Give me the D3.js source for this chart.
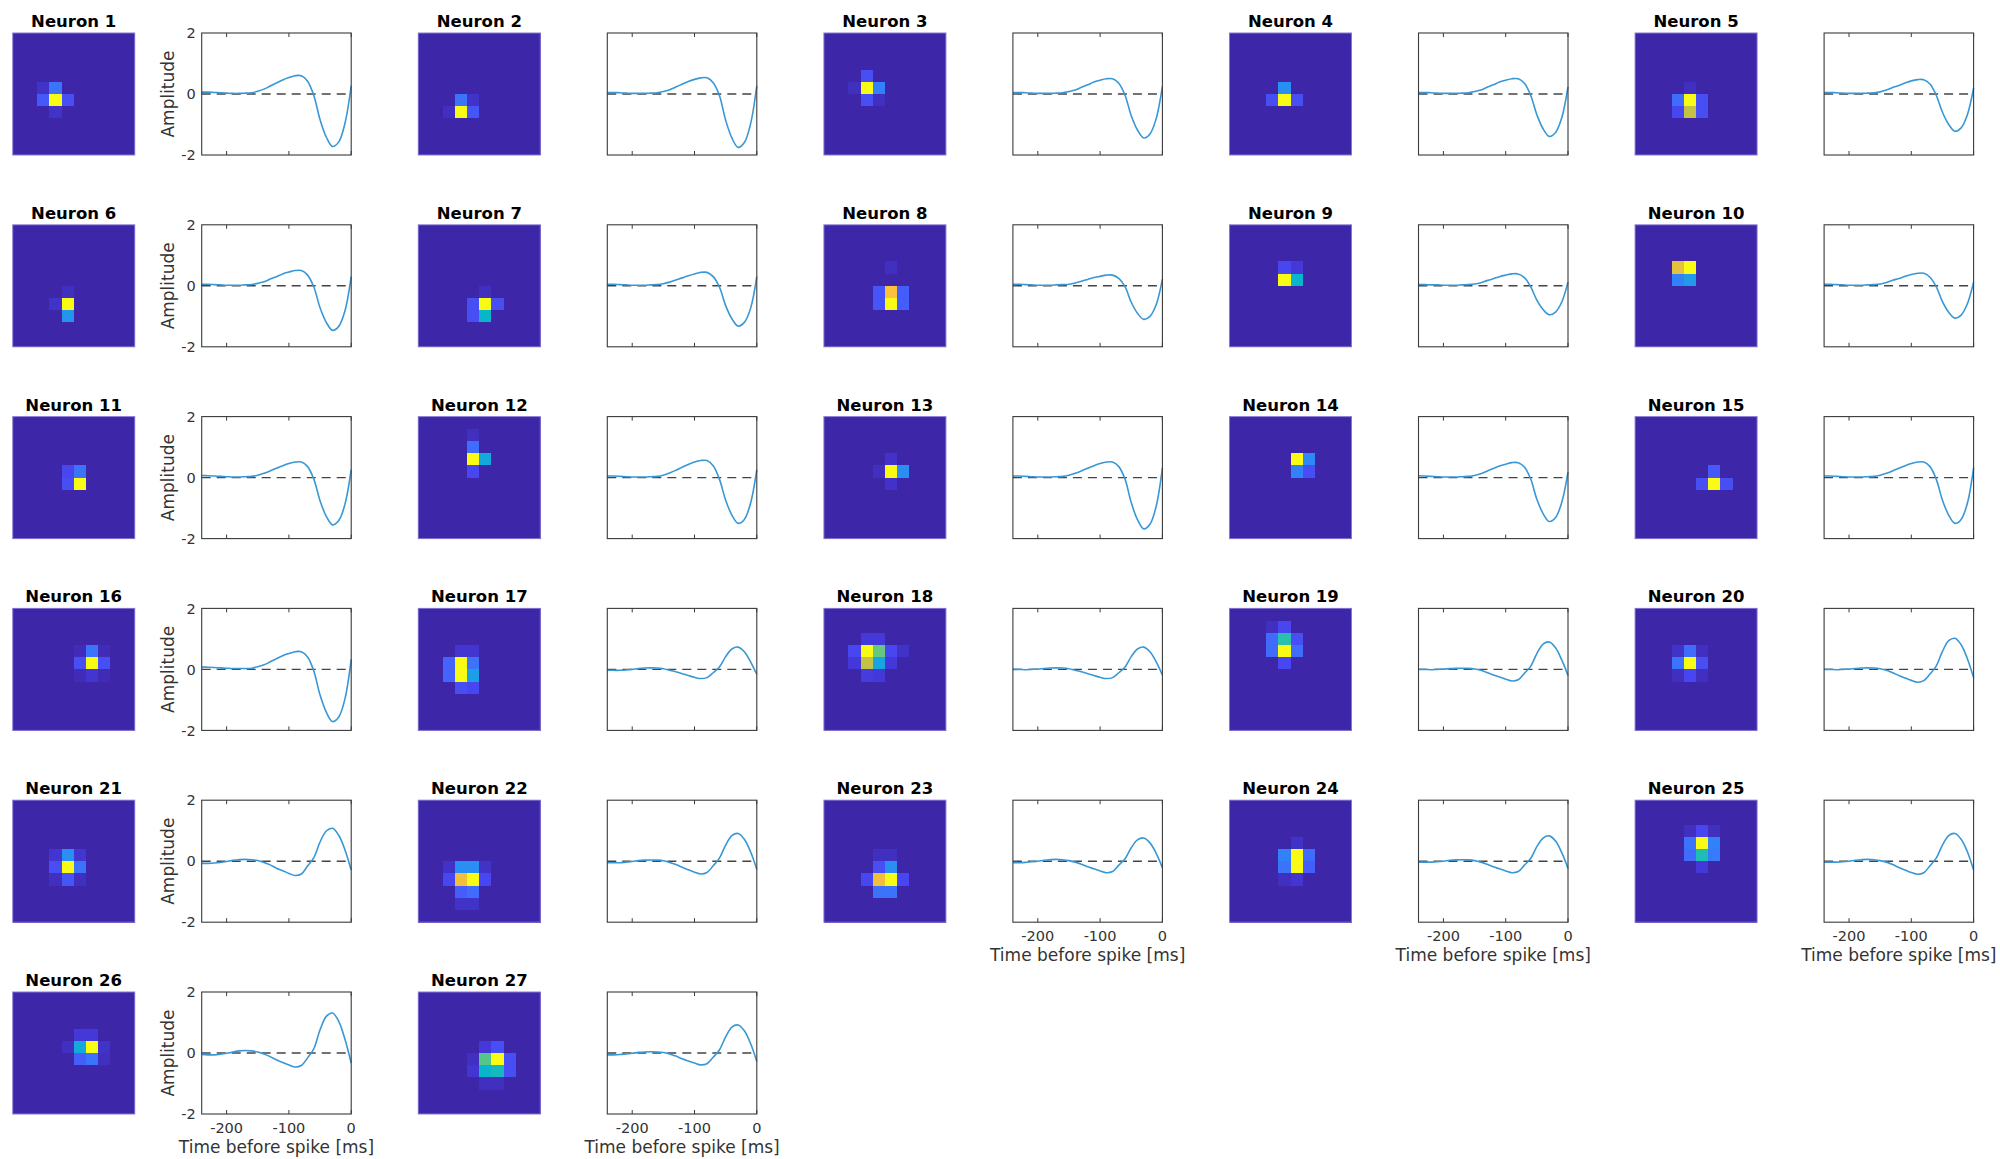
<!DOCTYPE html>
<html>
<head>
<meta charset="utf-8">
<script src="https://cdn.jsdelivr.net/npm/d3@7"></script>
<style>
  body { margin: 0; background: #fff; }
  svg { display: block; }
  text { font-family: "DejaVu Sans", sans-serif; }
</style>
</head>
<body>
<svg id="chart" width="2000" height="1159"></svg>
<script>
// Time axis of the spike-triggered averages (ms before spike)
const times = [-240,-230,-220,-210,-200,-190,-180,-170,-160,-150,-140,-130,-120,-110,-100,-90,-80,-70,-60,-50,-40,-30,-20,-10,0];
const xTicks = [-200, -100, 0];
const yTicks = [-2, 0, 2];
const neuronNames = d3.range(1, 28).map(i => "Neuron " + i);

// Temporal filters, one per neuron
const wave01 = [0.06,0.06,0.05,0.04,0.03,0.02,0.02,0.03,0.04,0.09,0.16,0.26,0.36,0.46,0.54,0.60,0.60,0.42,-0.05,-0.84,-1.41,-1.72,-1.57,-0.96,0.27];
const wave02 = [0.05,0.05,0.04,0.03,0.02,0.02,0.02,0.03,0.04,0.08,0.14,0.23,0.32,0.41,0.48,0.53,0.53,0.37,-0.05,-0.86,-1.44,-1.75,-1.59,-0.98,0.27];
const wave03 = [0.05,0.05,0.04,0.03,0.02,0.02,0.02,0.03,0.04,0.08,0.13,0.22,0.30,0.39,0.45,0.50,0.50,0.35,-0.04,-0.71,-1.18,-1.44,-1.31,-0.81,0.25];
const wave04 = [0.05,0.05,0.04,0.03,0.02,0.02,0.02,0.03,0.04,0.08,0.13,0.22,0.30,0.39,0.45,0.50,0.50,0.35,-0.04,-0.68,-1.14,-1.39,-1.26,-0.78,0.23];
const wave05 = [0.05,0.05,0.04,0.03,0.02,0.02,0.02,0.03,0.04,0.07,0.13,0.21,0.28,0.36,0.43,0.47,0.47,0.33,-0.04,-0.60,-1.00,-1.22,-1.11,-0.68,0.20];
const wave06 = [0.05,0.05,0.04,0.03,0.02,0.02,0.02,0.03,0.04,0.08,0.13,0.22,0.30,0.39,0.45,0.50,0.50,0.35,-0.04,-0.72,-1.20,-1.46,-1.33,-0.82,0.30];
const wave07 = [0.05,0.05,0.04,0.03,0.02,0.02,0.02,0.03,0.04,0.07,0.12,0.19,0.26,0.33,0.39,0.44,0.44,0.30,-0.04,-0.65,-1.08,-1.32,-1.20,-0.74,0.30];
const wave08 = [0.05,0.05,0.04,0.03,0.02,0.02,0.02,0.03,0.04,0.05,0.09,0.15,0.21,0.27,0.31,0.35,0.35,0.24,-0.03,-0.54,-0.90,-1.10,-1.00,-0.62,0.22];
const wave09 = [0.04,0.04,0.03,0.03,0.02,0.02,0.02,0.03,0.04,0.06,0.10,0.17,0.23,0.30,0.35,0.39,0.39,0.27,-0.03,-0.47,-0.78,-0.95,-0.86,-0.53,0.12];
const wave10 = [0.05,0.05,0.04,0.03,0.02,0.02,0.02,0.03,0.04,0.06,0.11,0.18,0.24,0.31,0.37,0.41,0.41,0.28,-0.03,-0.52,-0.87,-1.06,-0.96,-0.59,0.12];
const wave11 = [0.07,0.06,0.05,0.04,0.03,0.02,0.02,0.03,0.04,0.08,0.14,0.22,0.31,0.39,0.46,0.51,0.51,0.36,-0.05,-0.76,-1.27,-1.55,-1.41,-0.87,0.26];
const wave12 = [0.05,0.05,0.04,0.03,0.02,0.02,0.02,0.03,0.04,0.08,0.15,0.24,0.34,0.43,0.51,0.56,0.56,0.39,-0.05,-0.74,-1.23,-1.50,-1.37,-0.84,0.26];
const wave13 = [0.05,0.05,0.04,0.03,0.02,0.02,0.02,0.03,0.04,0.08,0.14,0.22,0.31,0.39,0.46,0.51,0.51,0.36,-0.05,-0.82,-1.38,-1.68,-1.53,-0.94,0.32];
const wave14 = [0.06,0.05,0.04,0.03,0.02,0.02,0.02,0.03,0.04,0.07,0.13,0.21,0.30,0.38,0.44,0.49,0.49,0.35,-0.04,-0.71,-1.18,-1.44,-1.31,-0.81,0.18];
const wave15 = [0.05,0.05,0.04,0.03,0.02,0.02,0.02,0.03,0.04,0.08,0.14,0.22,0.31,0.39,0.46,0.51,0.51,0.36,-0.05,-0.74,-1.23,-1.50,-1.37,-0.84,0.32];
const wave16 = [0.08,0.07,0.06,0.05,0.04,0.03,0.03,0.03,0.04,0.09,0.15,0.25,0.35,0.45,0.52,0.58,0.58,0.41,-0.05,-0.84,-1.40,-1.71,-1.56,-0.96,0.33];
const wave17 = [-0.03,-0.03,-0.03,-0.02,0.00,0.03,0.045,0.05,0.045,0.02,-0.03,-0.08,-0.14,-0.20,-0.26,-0.30,-0.27,-0.11,0.08,0.42,0.67,0.73,0.58,0.25,-0.16];
const wave18 = [0.00,0.00,-0.01,0.00,0.01,0.03,0.045,0.05,0.045,0.02,-0.03,-0.08,-0.14,-0.20,-0.26,-0.30,-0.27,-0.11,0.08,0.42,0.67,0.73,0.58,0.25,-0.18];
const wave19 = [0.00,0.00,-0.01,0.00,0.01,0.025,0.035,0.04,0.035,0.015,-0.03,-0.10,-0.18,-0.25,-0.32,-0.38,-0.34,-0.13,0.10,0.52,0.83,0.90,0.71,0.31,-0.20];
const wave20 = [0.00,0.00,-0.01,0.00,0.01,0.03,0.045,0.05,0.045,0.02,-0.03,-0.11,-0.20,-0.28,-0.36,-0.42,-0.37,-0.15,0.11,0.59,0.94,1.02,0.81,0.35,-0.27];
const wave21 = [-0.07,-0.07,-0.06,-0.04,-0.01,0.03,0.05,0.06,0.05,0.02,-0.04,-0.12,-0.23,-0.31,-0.40,-0.47,-0.42,-0.16,0.12,0.63,0.99,1.08,0.85,0.37,-0.29];
const wave22 = [-0.05,-0.05,-0.05,-0.03,-0.01,0.02,0.035,0.04,0.035,0.015,-0.04,-0.11,-0.20,-0.28,-0.36,-0.42,-0.37,-0.15,0.10,0.53,0.84,0.91,0.72,0.31,-0.27];
const wave23 = [-0.05,-0.05,-0.04,-0.02,0.00,0.03,0.05,0.06,0.05,0.02,-0.03,-0.10,-0.18,-0.25,-0.32,-0.38,-0.34,-0.13,0.08,0.44,0.70,0.76,0.60,0.26,-0.21];
const wave24 = [-0.03,-0.03,-0.03,-0.02,0.00,0.03,0.045,0.05,0.045,0.02,-0.03,-0.10,-0.18,-0.25,-0.32,-0.38,-0.34,-0.13,0.09,0.48,0.76,0.83,0.66,0.28,-0.24];
const wave25 = [-0.03,-0.03,-0.03,-0.02,0.00,0.03,0.05,0.06,0.05,0.02,-0.03,-0.11,-0.21,-0.29,-0.37,-0.43,-0.38,-0.15,0.10,0.53,0.84,0.91,0.72,0.31,-0.29];
const wave26 = [-0.05,-0.06,-0.06,-0.04,-0.01,0.03,0.07,0.08,0.07,0.03,-0.03,-0.12,-0.22,-0.31,-0.39,-0.46,-0.41,-0.16,0.14,0.76,1.20,1.31,1.04,0.45,-0.33];
const wave27 = [-0.06,-0.06,-0.05,-0.03,-0.01,0.02,0.035,0.04,0.035,0.015,-0.03,-0.10,-0.19,-0.26,-0.33,-0.39,-0.35,-0.14,0.10,0.53,0.85,0.92,0.73,0.31,-0.28];

// Spatial receptive fields on a 10x10 grid: [row, col, normalised weight];
// cells not listed sit at the background level
const fieldBackground = 0;
const rf01 = [[5,3,1],[4,3,0.22],[5,2,0.15],[5,4,0.12],[4,2,0.04],[6,3,0.04]];
const rf02 = [[6,3,1],[5,3,0.22],[6,4,0.14],[5,4,0.04],[6,2,0.03]];
const rf03 = [[4,3,1],[4,4,0.26],[3,3,0.12],[5,3,0.12],[4,2,0.03],[5,4,0.03]];
const rf04 = [[5,4,1],[4,4,0.3],[5,3,0.12],[5,5,0.12]];
const rf05 = [[5,4,1],[6,4,0.72],[5,3,0.2],[5,5,0.12],[6,3,0.1],[6,5,0.12],[4,4,0.03]];
const rf06 = [[6,4,1],[7,4,0.32],[6,3,0.04],[5,4,0.03]];
const rf07 = [[6,5,1],[7,5,0.45],[6,4,0.12],[7,4,0.12],[6,6,0.12],[5,5,0.03]];
const rf08 = [[5,5,0.82],[6,5,1],[5,4,0.14],[6,4,0.14],[5,6,0.16],[6,6,0.16],[3,5,0.03]];
const rf09 = [[4,4,1],[4,5,0.45],[3,4,0.1],[3,5,0.06]];
const rf10 = [[3,3,0.78],[3,4,1],[4,3,0.26],[4,4,0.34]];
const rf11 = [[5,5,1],[4,5,0.22],[4,4,0.1],[5,4,0.12]];
const rf12 = [[3,4,1],[3,5,0.4],[2,4,0.2],[4,4,0.1],[1,4,0.03]];
const rf13 = [[4,5,1],[4,6,0.3],[3,5,0.04],[5,5,0.04],[4,4,0.03]];
const rf14 = [[3,5,1],[3,6,0.28],[4,5,0.26],[4,6,0.12]];
const rf15 = [[5,6,1],[4,6,0.15],[5,5,0.12],[5,7,0.12]];
const rf16 = [[4,6,1],[3,6,0.22],[4,5,0.12],[4,7,0.12],[5,6,0.05],[3,5,0.02],[3,7,0.02],[5,5,0.02],[5,7,0.015]];
const rf17 = [[4,3,1],[5,3,1],[4,2,0.18],[5,2,0.18],[4,4,0.22],[5,4,0.36],[6,3,0.12],[6,4,0.1],[3,3,0.05],[3,4,0.05]];
const rf18 = [[3,3,1],[3,4,0.6],[4,3,0.72],[4,4,0.38],[3,2,0.1],[3,5,0.1],[2,3,0.06],[2,4,0.06],[4,2,0.06],[4,5,0.06],[5,3,0.07],[5,4,0.06],[3,6,0.04]];
const rf19 = [[3,4,1],[2,4,0.52],[2,3,0.2],[3,3,0.2],[2,5,0.12],[3,5,0.2],[1,4,0.1],[4,4,0.1],[1,3,0.03]];
const rf20 = [[4,4,1],[3,4,0.2],[4,3,0.22],[4,5,0.12],[5,4,0.1],[3,3,0.04],[3,5,0.03],[5,3,0.03],[5,5,0.03]];
const rf21 = [[5,4,1],[4,4,0.3],[5,3,0.12],[5,5,0.22],[6,4,0.14],[4,3,0.05],[4,5,0.05],[6,3,0.03],[6,5,0.03]];
const rf22 = [[5,3,0.3],[5,4,0.3],[6,3,0.8],[6,4,1],[7,3,0.16],[7,4,0.2],[6,2,0.1],[6,5,0.1],[5,2,0.04],[5,5,0.04],[8,3,0.04],[8,4,0.04]];
const rf23 = [[5,4,0.12],[5,5,0.3],[6,4,0.8],[6,5,1],[7,4,0.22],[7,5,0.22],[6,3,0.1],[6,6,0.1],[4,4,0.03],[4,5,0.03]];
const rf24 = [[4,5,1],[5,5,1],[4,4,0.26],[5,4,0.22],[4,6,0.2],[5,6,0.16],[3,5,0.04],[6,5,0.05],[6,4,0.03]];
const rf25 = [[3,5,1],[4,5,0.5],[3,4,0.22],[4,4,0.2],[3,6,0.26],[4,6,0.24],[2,5,0.1],[5,5,0.06],[2,4,0.03],[2,6,0.03]];
const rf26 = [[4,5,0.4],[4,6,1],[5,5,0.16],[5,6,0.22],[3,5,0.06],[3,6,0.06],[4,4,0.03],[4,7,0.04],[5,7,0.03]];
const rf27 = [[5,5,0.58],[5,6,1],[6,5,0.45],[6,6,0.48],[4,5,0.06],[4,6,0.12],[5,7,0.12],[6,7,0.12],[5,4,0.03],[6,4,0.05],[7,5,0.03],[7,6,0.03]];

const waveforms = [wave01,wave02,wave03,wave04,wave05,wave06,wave07,wave08,wave09,wave10,wave11,wave12,wave13,wave14,wave15,wave16,wave17,wave18,wave19,wave20,wave21,wave22,wave23,wave24,wave25,wave26,wave27];
const fields = [rf01,rf02,rf03,rf04,rf05,rf06,rf07,rf08,rf09,rf10,rf11,rf12,rf13,rf14,rf15,rf16,rf17,rf18,rf19,rf20,rf21,rf22,rf23,rf24,rf25,rf26,rf27];

// Parula colour map
const parulaStops = ["#3e26a8","#4743f0","#4465fd","#2e87f7","#1ca0e6","#07b6ca","#36c4a1","#84ca66","#c8c141","#fdbf3c","#f5e229","#f9fb15"];
const parula = d3.scaleLinear()
  .domain(d3.range(parulaStops.length).map(i => i / (parulaStops.length - 1)))
  .range(parulaStops)
  .interpolate(d3.interpolateRgb)
  .clamp(true);

// Panel geometry
const nCols = 5;
const colX0 = 12.7, colStep = 405.6;
const rowY0 = 33, rowStep = 191.8;
const mapSize = 122;
const plotDx = 189, plotW = 149.5, plotH = 122;
const gridN = 10;

const svg = d3.select("#chart");
const textColor = "#333333";

const cellIdx = d3.range(gridN);
const band = d3.scaleBand().domain(cellIdx).range([0, mapSize]);
const x = d3.scaleLinear().domain([-240, 0]).range([0, plotW]);
const y = d3.scaleLinear().domain([-2, 2]).range([plotH, 0]);

const line = d3.line()
  .x((d, i) => x(times[i]))
  .y(d => y(d))
  .curve(d3.curveCatmullRom.alpha(0.5));

neuronNames.forEach((name, k) => {
  const col = k % nCols, row = Math.floor(k / nCols);
  const mx = colX0 + col * colStep, my = rowY0 + row * rowStep;

  // Receptive-field image
  const g = svg.append("g").attr("transform", `translate(${mx},${my})`);
  const grid = [];
  cellIdx.forEach(r => cellIdx.forEach(c => grid.push({r, c, v: fieldBackground})));
  fields[k].forEach(([r, c, v]) => { grid[r * gridN + c].v = v; });
  g.selectAll("rect.cell").data(grid).join("rect")
    .attr("class", "cell")
    .attr("x", d => band(d.c)).attr("y", d => band(d.r))
    .attr("width", band.bandwidth() + 0.3).attr("height", band.bandwidth() + 0.3)
    .attr("fill", d => parula(d.v))
    .attr("shape-rendering", "crispEdges");
  g.append("rect").attr("width", mapSize).attr("height", mapSize)
    .attr("fill", "none").attr("stroke", "#8479d2").attr("stroke-width", 1);
  g.append("text")
    .attr("x", mapSize / 2).attr("y", -6)
    .attr("text-anchor", "middle")
    .attr("font-size", "16.5px").attr("font-weight", "bold")
    .attr("fill", "#000")
    .text(name);

  // Temporal filter plot
  const p = svg.append("g").attr("transform", `translate(${mx + plotDx},${my})`);
  p.append("rect").attr("width", plotW).attr("height", plotH).attr("fill", "#fff");
  p.append("line")
    .attr("x1", x(-240)).attr("x2", x(0)).attr("y1", y(0)).attr("y2", y(0))
    .attr("stroke", "#444").attr("stroke-width", 1.4).attr("stroke-dasharray", "9,6");
  p.append("path").datum(waveforms[k])
    .attr("d", line)
    .attr("fill", "none").attr("stroke", "#3897d6").attr("stroke-width", 1.6);
  p.append("rect").attr("width", plotW).attr("height", plotH)
    .attr("fill", "none").attr("stroke", "#3a3a3a").attr("stroke-width", 1.1);

  // inward tick marks on top and bottom
  xTicks.forEach(t => {
    p.append("line").attr("x1", x(t)).attr("x2", x(t)).attr("y1", plotH).attr("y2", plotH - 4)
      .attr("stroke", "#3a3a3a").attr("stroke-width", 1);
    p.append("line").attr("x1", x(t)).attr("x2", x(t)).attr("y1", 0).attr("y2", 4)
      .attr("stroke", "#3a3a3a").attr("stroke-width", 1);
  });

  if (col === 0) {
    yTicks.forEach(t => {
      p.append("text")
        .attr("x", -6).attr("y", y(t)).attr("dy", "0.36em")
        .attr("text-anchor", "end").attr("font-size", "14.5px").attr("fill", textColor)
        .text(t < 0 ? "-" + Math.abs(t) : String(t));
    });
    p.append("text")
      .attr("transform", `translate(${-28},${plotH / 2}) rotate(-90)`)
      .attr("text-anchor", "middle").attr("font-size", "17px").attr("fill", textColor)
      .text("Amplitude");
  }

  // bottom-most panel of each column carries the time axis labels
  if (k + nCols >= neuronNames.length) {
    xTicks.forEach(t => {
      p.append("text")
        .attr("x", x(t)).attr("y", plotH + 19)
        .attr("text-anchor", "middle").attr("font-size", "14.5px").attr("fill", textColor)
        .text(t < 0 ? "-" + Math.abs(t) : String(t));
    });
    p.append("text")
      .attr("x", plotW / 2).attr("y", plotH + 39)
      .attr("text-anchor", "middle").attr("font-size", "17px").attr("fill", textColor)
      .text("Time before spike [ms]");
  }
});
</script>
</body>
</html>
